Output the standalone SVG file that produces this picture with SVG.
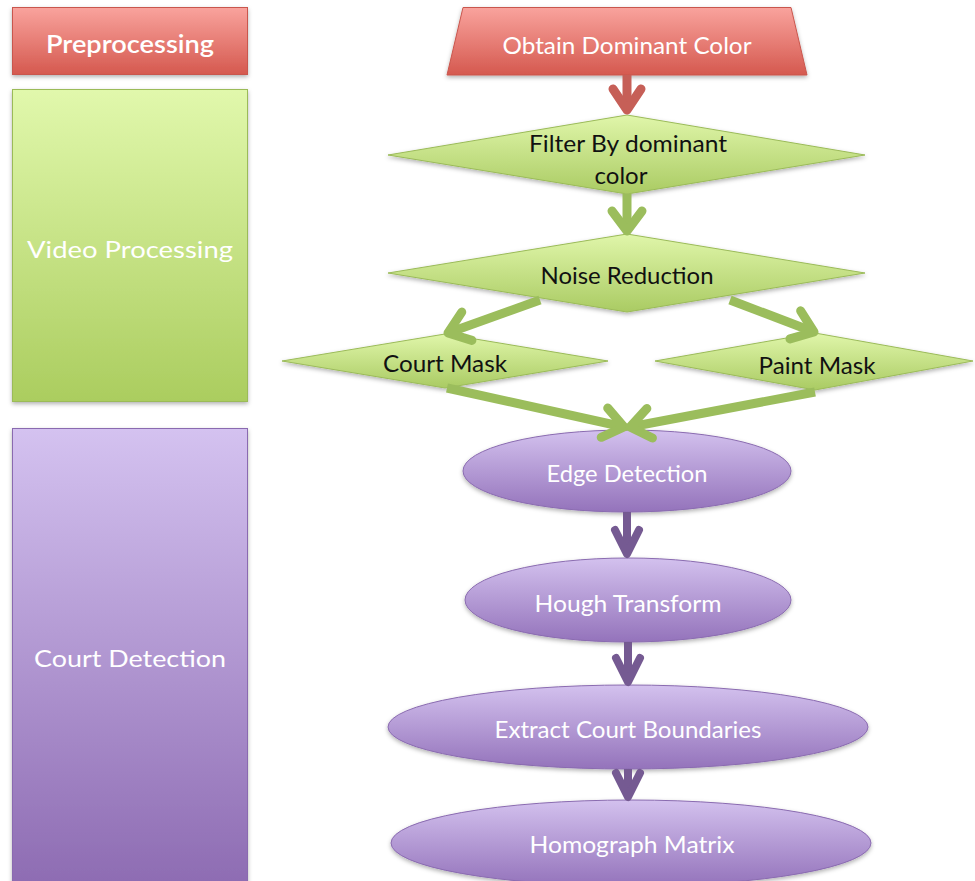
<svg xmlns="http://www.w3.org/2000/svg" width="975" height="881" viewBox="0 0 975 881">
  <defs>
    <linearGradient id="gRed" x1="0" y1="0" x2="0" y2="1">
      <stop offset="0" stop-color="#f9a39d"/>
      <stop offset="1" stop-color="#d5594f"/>
    </linearGradient>
    <linearGradient id="gGreen" x1="0" y1="0" x2="0" y2="1">
      <stop offset="0" stop-color="#e1f8ac"/>
      <stop offset="1" stop-color="#abcd5f"/>
    </linearGradient>
    <linearGradient id="gDiamond" x1="0" y1="0" x2="0" y2="1">
      <stop offset="0" stop-color="#e0f6aa"/>
      <stop offset="1" stop-color="#aacb63"/>
    </linearGradient>
    <linearGradient id="gPurple" x1="0" y1="0" x2="0" y2="1">
      <stop offset="0" stop-color="#d4c2f0"/>
      <stop offset="1" stop-color="#8d6bb2"/>
    </linearGradient>
    <linearGradient id="gEllipse" x1="0" y1="0" x2="0" y2="1">
      <stop offset="0" stop-color="#d3c1ee"/>
      <stop offset="1" stop-color="#9473bb"/>
    </linearGradient>
    <filter id="shadow" x="-10%" y="-10%" width="120%" height="130%">
      <feDropShadow dx="0" dy="2" stdDeviation="2" flood-color="#000" flood-opacity="0.3"/>
    </filter>
    <marker id="headRed" markerUnits="userSpaceOnUse" orient="auto" markerWidth="40" markerHeight="40" refX="0" refY="0" viewBox="-30 -20 40 40" overflow="visible">
      <path d="M -21 -14 L 0 0 L -21 14" fill="none" stroke="#c65f57" stroke-width="9" stroke-linecap="round" stroke-linejoin="round"/>
    </marker>
    <marker id="headGreen" markerUnits="userSpaceOnUse" orient="auto" markerWidth="40" markerHeight="40" refX="0" refY="0" viewBox="-30 -20 40 40" overflow="visible">
      <path d="M -20 -15 L 0 0 L -20 15" fill="none" stroke="#9bbd5c" stroke-width="9" stroke-linecap="round" stroke-linejoin="round"/>
    </marker>
    <marker id="headPurple" markerUnits="userSpaceOnUse" orient="auto" markerWidth="40" markerHeight="40" refX="0" refY="0" viewBox="-30 -20 40 40" overflow="visible">
      <path d="M -24 -12 L 0 0 L -24 12" fill="none" stroke="#755a92" stroke-width="8" stroke-linecap="round" stroke-linejoin="round"/>
    </marker>
  </defs>
  <style>
    text { font-family: Lato, "Open Sans", "Liberation Sans", sans-serif; font-size: 24px; text-anchor: middle; dominant-baseline: central; }
    .light { fill: #ffffff; }
    .dark { fill: #111111; }
    .red { fill: url(#gRed); stroke: #c9564d; stroke-width: 1; filter: url(#shadow); }
    .green { fill: url(#gGreen); stroke: #9bbb59; stroke-width: 1; filter: url(#shadow); }
    .diamond { fill: url(#gDiamond); stroke: #9bbb59; stroke-width: 1; filter: url(#shadow); }
    .purple { fill: url(#gPurple); stroke: #8a6bb0; stroke-width: 1; filter: url(#shadow); }
    .ellipse { fill: url(#gEllipse); stroke: #8a6bb0; stroke-width: 1; filter: url(#shadow); }
    .cRed { stroke: #c65f57; stroke-width: 9; fill: none; marker-end: url(#headRed); }
    .cGreen { stroke: #9bbd5c; stroke-width: 9; fill: none; marker-end: url(#headGreen); }
    .cPurple { stroke: #755a92; stroke-width: 8; fill: none; marker-end: url(#headPurple); }
  </style>

  <rect width="975" height="881" fill="#ffffff"/>

  <!-- stage bands on the left -->
  <g id="preprocessing">
    <rect class="red" x="12.5" y="7.5" width="235" height="67"/>
    <text class="light" x="130" y="43" font-weight="600" textLength="168" lengthAdjust="spacingAndGlyphs">Preprocessing</text>
  </g>
  <g id="video-processing">
    <rect class="green" x="12.5" y="89.5" width="235" height="312"/>
    <text class="light" x="130" y="248" textLength="206" lengthAdjust="spacingAndGlyphs">Video Processing</text>
  </g>
  <g id="court-detection">
    <rect class="purple" x="12.5" y="428.5" width="235" height="460"/>
    <text class="light" x="130" y="657" textLength="192" lengthAdjust="spacingAndGlyphs">Court Detection</text>
  </g>

  <!-- flow nodes -->
  <g id="obtain-dominant-color">
    <polygon class="red" points="463,7.5 791,7.5 807,75 447,75"/>
    <text class="light" x="627" y="44" textLength="249" lengthAdjust="spacingAndGlyphs">Obtain Dominant Color</text>
  </g>
  <g id="filter-by-color">
    <polygon class="diamond" points="627,115 865,155 627,194 388,155"/>
    <text class="dark" x="628" y="142" textLength="198" lengthAdjust="spacingAndGlyphs">Filter By dominant</text>
    <text class="dark" x="621" y="174">color</text>
  </g>
  <g id="noise-reduction">
    <polygon class="diamond" points="627,234 865,273 627,312 388,273"/>
    <text class="dark" x="627" y="274" textLength="173" lengthAdjust="spacingAndGlyphs">Noise Reduction</text>
  </g>
  <g id="court-mask">
    <polygon class="diamond" points="445,334 608,361 445,388 282,361"/>
    <text class="dark" x="445" y="362" textLength="124" lengthAdjust="spacingAndGlyphs">Court Mask</text>
  </g>
  <g id="paint-mask">
    <polygon class="diamond" points="815,333 973,361 815,390 655,361"/>
    <text class="dark" x="817" y="364" textLength="117" lengthAdjust="spacingAndGlyphs">Paint Mask</text>
  </g>
  <g id="edge-detection">
    <ellipse class="ellipse" cx="627" cy="471" rx="164" ry="41"/>
    <text class="light" x="627" y="472" textLength="161" lengthAdjust="spacingAndGlyphs">Edge Detection</text>
  </g>
  <g id="hough-transform">
    <ellipse class="ellipse" cx="628" cy="600" rx="163" ry="42"/>
    <text class="light" x="628" y="602" textLength="187" lengthAdjust="spacingAndGlyphs">Hough Transform</text>
  </g>
  <g id="extract-court-boundaries">
    <ellipse class="ellipse" cx="628" cy="727" rx="240" ry="42"/>
    <text class="light" x="628" y="728" textLength="267" lengthAdjust="spacingAndGlyphs">Extract Court Boundaries</text>
  </g>
  <g id="homograph-matrix">
    <ellipse class="ellipse" cx="631" cy="843" rx="240" ry="43"/>
    <text class="light" x="632" y="843" textLength="205" lengthAdjust="spacingAndGlyphs">Homograph Matrix</text>
  </g>

  <!-- connectors -->
  <g id="connectors">
    <line class="cRed" x1="627" y1="75" x2="627" y2="110"/>
    <line class="cGreen" x1="627" y1="194" x2="627" y2="231"/>
    <line class="cGreen" x1="540" y1="300" x2="448" y2="333"/>
    <line class="cGreen" x1="730" y1="300" x2="814" y2="332"/>
    <line class="cGreen" x1="447" y1="388" x2="624" y2="427"/>
    <line class="cGreen" x1="815" y1="392" x2="630" y2="427"/>
    <line class="cPurple" x1="627" y1="512" x2="627" y2="554"/>
    <line class="cPurple" x1="628" y1="642" x2="628" y2="682"/>
    <line class="cPurple" x1="628" y1="769" x2="628" y2="797"/>
  </g>
</svg>
